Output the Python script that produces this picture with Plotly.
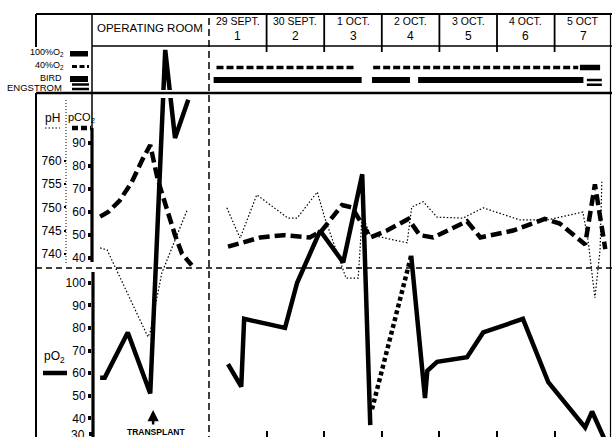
import plotly.graph_objects as go

W, H = 612, 437

# ---------------- data ----------------
# time in days from 29 Sept 00:00 (operating-room period plotted at negative times)
po2_or_t = [-1.89, -1.81, -1.41, -1.02, -0.76, -0.59, -0.36]
po2_or_v = [58, 58, 78, 51, 203, 164, 181]

po2_a_t = [0.33, 0.56, 0.61, 1.32, 1.53, 1.93, 2.33, 2.66, 2.80]
po2_a_v = [64, 54, 84, 80, 100, 123, 109, 148, 37]
po2_gap_t = [2.83, 3.51]
po2_gap_v = [44, 112]
po2_b_t = [3.51, 3.75, 3.79, 3.96, 4.48, 4.76, 5.45, 5.89, 6.53, 6.65, 6.88]
po2_b_v = [112, 49, 61, 65, 67, 78, 84, 56, 36, 43, 30]

pco2_or_t = [-1.89, -1.75, -1.55, -1.34, -1.15, -1.02, -0.89, -0.76, -0.59, -0.47, -0.30]
pco2_or_v = [58, 60, 65, 73, 83, 89, 74, 63, 50, 42, 37]
pco2_t = [0.33, 0.89, 1.29, 1.75, 1.96, 2.31, 2.48, 2.80, 3.09, 3.46, 3.66, 3.89,
          4.48, 4.71, 5.28, 5.83, 6.09, 6.53, 6.70, 6.88]
pco2_v = [45, 49, 50, 49, 52, 63, 62, 49, 52, 57, 50, 49, 56, 49, 52, 57, 55, 46, 72, 44]

ph_or_t = [-1.89, -1.77, -1.06, -1.02, -0.82, -0.38]
ph_or_v = [7.413, 7.409, 7.222, 7.233, 7.359, 7.494]
ph_t = [0.31, 0.54, 0.83, 1.37, 1.53, 1.88, 2.01, 2.27, 2.38, 2.59, 2.66, 2.80, 3.44,
        3.52, 3.72, 3.96, 4.41, 4.76, 5.40, 5.87, 6.49, 6.58, 6.70, 6.79, 6.82]
ph_v = [7.499, 7.434, 7.527, 7.477, 7.477, 7.533, 7.477, 7.383, 7.348, 7.348, 7.484,
        7.441, 7.424, 7.501, 7.512, 7.479, 7.477, 7.499, 7.473, 7.473, 7.490, 7.430,
        7.306, 7.409, 7.555]

# ventilation record (start, end) in days
o2_40_periods = [(0.13, 2.56), (2.85, 6.41)]
o2_100_periods = [(6.44, 6.79)]
bird_periods = [(0.08, 2.65), (2.83, 3.49), (3.63, 6.50)]
engstrom_periods = [(6.56, 6.82)]

day_dates = ["29 SEPT.", "30 SEPT.", "1 OCT.", "2 OCT.", "3 OCT.", "4 OCT.", "5 OCT"]
day_numbers = ["1", "2", "3", "4", "5", "6", "7"]
day_bounds = [1, 2, 3, 4, 5, 6]
transplant_t = -0.97

pco2_ticks = [40, 50, 60, 70, 80, 90]
ph_ticks = [7.40, 7.45, 7.50, 7.55, 7.60]
ph_ticktext = ["740", "745", "750", "755", "760"]
po2_ticks = [40, 50, 60, 70, 80, 90, 100]
po2_ticktext = ["40", "50", "60", "70", "80", "90", "100"]
po2_cut_label = "30"

FONT = "Liberation Sans"


def segs(periods, level):
    xs, ys = [], []
    for a, b in periods:
        xs += [a, b, None]
        ys += [level, level, None]
    return xs, ys


fig = go.Figure()

# pH (thin dotted)
for t, v in [(ph_or_t, ph_or_v), (ph_t, ph_v)]:
    fig.add_trace(go.Scatter(x=t, y=v, yaxis="y2", mode="lines",
                             line=dict(color="black", width=1.2, dash="1.5px,2px")))
# pCO2 (thick dashed)
for t, v in [(pco2_or_t, pco2_or_v), (pco2_t, pco2_v)]:
    fig.add_trace(go.Scatter(x=t, y=v, yaxis="y", mode="lines",
                             line=dict(color="black", width=4.5, dash="11px,5px")))
# pO2 (thick solid) + interpolated gap (thick dotted)
for t, v in [(po2_or_t, po2_or_v), (po2_a_t, po2_a_v), (po2_b_t, po2_b_v)]:
    fig.add_trace(go.Scatter(x=t, y=v, yaxis="y3", mode="lines",
                             line=dict(color="black", width=4.5)))
fig.add_trace(go.Scatter(x=po2_gap_t, y=po2_gap_v, yaxis="y3", mode="lines",
                         line=dict(color="black", width=4.5, dash="4px,3px")))

# ventilation tracks (track 1 = O2 concentration, track 2 = ventilator)
xs, ys = segs(o2_40_periods, 1)
fig.add_trace(go.Scatter(x=xs, y=ys, yaxis="y4", mode="lines",
                         line=dict(color="black", width=3.5, dash="7px,3px")))
xs, ys = segs(o2_100_periods, 1)
fig.add_trace(go.Scatter(x=xs, y=ys, yaxis="y4", mode="lines",
                         line=dict(color="black", width=5.5)))
xs, ys = segs(bird_periods, 2)
fig.add_trace(go.Scatter(x=xs, y=ys, yaxis="y4", mode="lines",
                         line=dict(color="black", width=6)))
for off in (0.0, 0.38):
    xs, ys = segs(engstrom_periods, 2 + off)
    fig.add_trace(go.Scatter(x=xs, y=ys, yaxis="y4", mode="lines",
                             line=dict(color="black", width=2.5)))


def PX(px):
    return px / W


def PY(py):
    return 1 - py / H


shapes = []


def pline(x0, y0, x1, y1, width=1.5, dash="solid", layer="above", color="black"):
    shapes.append(dict(type="line", xref="paper", yref="paper",
                       x0=PX(x0), y0=PY(y0), x1=PX(x1), y1=PY(y1), layer=layer,
                       line=dict(color=color, width=width, dash=dash)))


# frame
pline(36, 14, 612, 14, 2)
pline(36, 14, 36, 47, 2)
pline(36, 93, 36, 437, 2)
pline(92, 14, 92, 128, 1.5)
pline(92, 46, 612, 46, 1.5)
pline(610.5, 14, 610.5, 437, 1.2)
# white gap where pO2 spike crosses the header line
shapes.append(dict(type="rect", xref="paper", yref="paper", x0=PX(94), x1=PX(206),
                   y0=PY(98), y1=PY(90), fillcolor="white", line=dict(width=0), layer="above"))
pline(36, 93, 612, 93, 2.5)
# dashed divider
pline(36, 268, 612, 268, 1.5, dash="6px,4px", layer="below")
# OR / day-1 dashed separator
shapes.append(dict(type="line", xref="x", yref="paper", x0=0, x1=0, y0=PY(18), y1=0,
                   layer="below", line=dict(color="black", width=1.5, dash="7px,4px")))
# day separators in header
for d in day_bounds:
    shapes.append(dict(type="line", xref="x", yref="paper", x0=d, x1=d, y0=PY(14), y1=PY(52),
                       line=dict(color="black", width=1.8)))
# axis lines
pline(92, 128, 92, 262, 3.2)
pline(93, 272, 93, 437, 3.2)
pline(66, 100, 66, 265, 1, dash="1px,2px")
# legend symbols
pline(45, 128, 60, 128, 1.2, dash="1.5px,2px")
pline(72, 128, 91, 128, 4.5, dash="6px,3px")
pline(43, 373, 67, 373, 4.5)
shapes.append(dict(type="rect", xref="paper", yref="paper", x0=PX(70), x1=PX(88),
                   y0=PY(56.5), y1=PY(51), fillcolor="black", line=dict(width=0)))
pline(72, 66.5, 89, 66.5, 3.2, dash="5px,2.5px")
shapes.append(dict(type="rect", xref="paper", yref="paper", x0=PX(70), x1=PX(88),
                   y0=PY(82), y1=PY(76), fillcolor="black", line=dict(width=0)))
pline(72, 84.5, 89, 84.5, 2.5)
pline(72, 89, 89, 89, 2.5)
# tick mark for the cut-off 30 label
pline(89, 434, 92, 434, 4)

ann = []


def ptext(text, x, y, size, xanchor="center"):
    ann.append(dict(text=text, xref="paper", yref="paper",
                    x=PX(x), y=PY(y), xanchor=xanchor, yanchor="middle", showarrow=False,
                    font=dict(family=FONT, size=size, color="black")))


ptext("OPERATING ROOM", 95, 28, 11.5, xanchor="left")
for i, (dt, dn) in enumerate(zip(day_dates, day_numbers)):
    ann.append(dict(text=dt, xref="x", yref="paper", x=i + 0.5, y=PY(21), showarrow=False,
                    yanchor="middle", font=dict(family=FONT, size=10.5, color="black")))
    ann.append(dict(text=dn, xref="x", yref="paper", x=i + 0.5, y=PY(36), showarrow=False,
                    yanchor="middle", font=dict(family=FONT, size=12, color="black")))
ptext("100%O<sub>2</sub>", 66, 53, 9, xanchor="right")
ptext("40%O<sub>2</sub>", 66, 66, 9, xanchor="right")
ptext("BIRD", 64, 77.5, 9, xanchor="right")
ptext("ENGSTROM", 64, 87.5, 9.5, xanchor="right")
ptext("pH", 52, 118, 12)
ptext("pCO<sub>2</sub>", 81, 118, 11)
ptext("pO<sub>2</sub>", 54, 357, 12)
ptext(po2_cut_label, 87, 435, 12, xanchor="right")
ann.append(dict(text="<b>TRANSPLANT</b>", xref="x", yref="paper", x=transplant_t + 0.05,
                y=PY(432), yanchor="middle", showarrow=False,
                font=dict(family=FONT, size=8.5, color="black")))
ann.append(dict(text="", xref="x", yref="paper", x=transplant_t, y=PY(410), showarrow=True,
                arrowhead=2, arrowsize=0.9, arrowwidth=2.5, arrowcolor="black", ax=0, ay=16))

fig.update_layout(
    width=W, height=H, autosize=False,
    margin=dict(l=0, r=0, t=0, b=0),
    paper_bgcolor="white", plot_bgcolor="white",
    showlegend=False,
    font=dict(family=FONT, size=12, color="black"),
    shapes=shapes, annotations=ann,
    xaxis=dict(domain=[92 / W, 1.0], range=[-117 / 57.6, 403 / 57.6], anchor="y",
               tickvals=day_bounds, ticks="inside", ticklen=6, tickwidth=2, tickcolor="black",
               showticklabels=False, showgrid=False, zeroline=False, showline=False),
    yaxis=dict(domain=[0, 1], range=[-37.3, 151.7], anchor="x", side="left",
               tickvals=pco2_ticks, ticks="outside", ticklen=3, tickwidth=4, tickcolor="black",
               tickfont=dict(family=FONT, size=12), showgrid=False, zeroline=False, showline=False),
    yaxis2=dict(overlaying="y", anchor="free", position=66 / W, side="left",
                range=[7.0073, 7.945], tickvals=ph_ticks, ticktext=ph_ticktext,
                ticks="outside", ticklen=2, tickwidth=1.5, tickcolor="black",
                tickfont=dict(family=FONT, size=12), showgrid=False, zeroline=False, showline=False),
    yaxis3=dict(overlaying="y", anchor="x", side="left", range=[31.73, 225.1],
                tickvals=po2_ticks, ticktext=po2_ticktext, ticks="outside", ticklen=3, tickwidth=4,
                tickcolor="black", tickfont=dict(family=FONT, size=12),
                showgrid=False, zeroline=False, showline=False),
    yaxis4=dict(overlaying="y", anchor="x", range=[30.56, -4.4],
                showticklabels=False, ticks="", showgrid=False, zeroline=False, showline=False),
)

fig.write_html("out.html", config={"displayModeBar": False},
               post_script="document.body.style.margin='0';document.body.style.overflow='hidden';")
